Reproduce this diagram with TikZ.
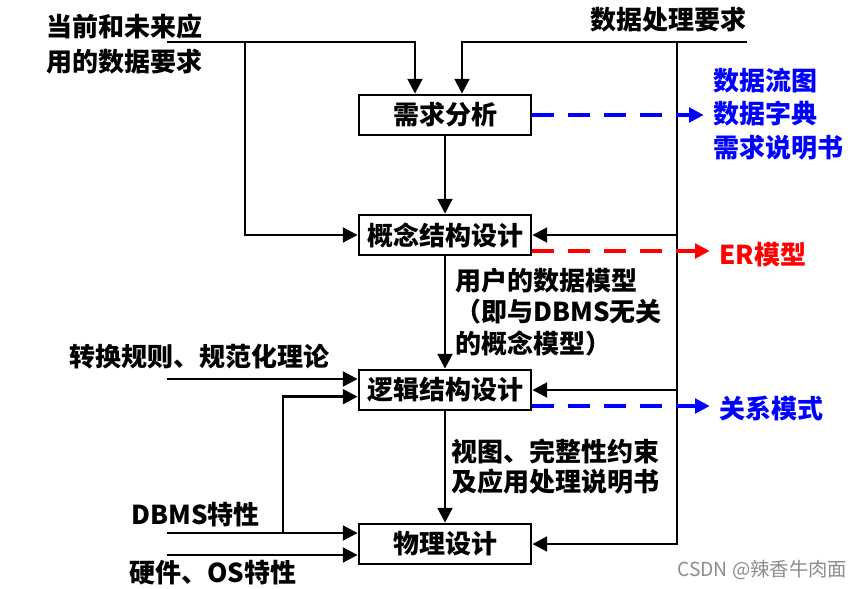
\documentclass[tikz,border=0pt]{standalone}
\usepackage{fontspec}
\setmainfont{Noto Sans CJK SC}
\usetikzlibrary{arrows.meta}
\newcommand\diagfontat[1]{\fontsize{19.5}{#1}\selectfont\bfseries}
\newcommand\diagfont{\diagfontat{25}}
\begin{document}
\begin{tikzpicture}[x=0.75pt,y=-0.75pt,
  box/.style={draw, line width=2.1pt, minimum width=129pt, minimum height=30pt, font=\diagfont},
  lbl/.style={inner sep=0pt, align=left, font=\diagfont},
  flow/.style={line width=2pt, -{Triangle[length=11pt,width=11pt]}},
  dashflow/.style={line width=2.4pt, dash pattern=on 16pt off 11pt, shorten >=7pt, -{Triangle[length=11pt,width=11pt]}}]
\fill[white] (0,0) rectangle (862,588);
\useasboundingbox (0,0) rectangle (862,588);
\node[box] (req) at (445,115) {需求分析};
\node[box] (con) at (445,235) {概念结构设计};
\node[box] (log) at (445,390) {逻辑结构设计};
\node[box] (phy) at (445,544) {物理设计};
\node[lbl, anchor=west, font={\diagfontat{26pt}}] (appreq) at (46,44) {当前和未来应\\用的数据要求};
\node[lbl] (procreq) at (668,20) {数据处理要求};
\node[lbl, anchor=west, text=blue] (docs) at (713,114) {数据流图\\数据字典\\需求说明书};
\node[lbl, anchor=west, text=red] (erm) at (719,255) {ER模型};
\node[lbl, anchor=west, font={\diagfontat{23.6pt}}] (umodel) at (455,312) {用户的数据模型\\（即与DBMS无关\\的概念模型）};
\node[lbl, anchor=west] (rules) at (69,357) {转换规则、规范化理论};
\node[lbl, anchor=west, text=blue] (relm) at (719,408) {关系模式};
\node[lbl, anchor=west, font={\diagfontat{22.5pt}}] (views) at (451,467) {视图、完整性约束\\及应用处理说明书};
\node[lbl, anchor=west] (dbms) at (131,515) {DBMS特性};
\node[lbl, anchor=west] (hw) at (129,573) {硬件、OS特性};
\node[inner sep=0pt, anchor=west, text=black!45, font={\fontsize{14.5}{18}\selectfont}] (mark) at (677,570) {CSDN @辣香牛肉面};
% inputs at the top
\coordinate (inA) at (167,42);
\coordinate (jA) at (245,42);
\coordinate (inB) at (747,42);
\coordinate (jB) at (677,42);
\draw[flow] (inA) -| ([xshift=-22.5pt]req.north);
\draw[flow] (inB) -| ([xshift=12.75pt]req.north);
\draw[flow] (jA) |- (con.west);
\draw[flow] (jB) |- (phy.east);
\draw[flow] (jB |- con.east) -- (con.east);
\draw[flow] (jB |- log.east) -- (log.east);
% main chain
\draw[flow] (req) -- (con);
\draw[flow] (con) -- (log);
\draw[flow] (log) -- (phy);
% inputs on the left
\coordinate (inC) at (167,379);
\coordinate (inD) at (167,533);
\coordinate (jD) at (283,533);
\coordinate (inE) at (167,555);
\draw[flow] (inC) -- (inC -| log.west);
\draw[flow] (inD) -- (inD -| phy.west);
\draw[flow] (jD) |- ([yshift=-5pt]log.west);
\draw[flow] (inE) -- (inE -| phy.west);
% outputs
\draw[dashflow, blue] (req.east) -- (req.east -| docs.west);
\draw[dashflow, red] ([yshift=-12pt]con.east) -- ([yshift=-12pt]con.east -| erm.west);
\draw[dashflow, blue] ([yshift=-12pt]log.east) -- ([yshift=-12pt]log.east -| relm.west);
\end{tikzpicture}
\end{document}
